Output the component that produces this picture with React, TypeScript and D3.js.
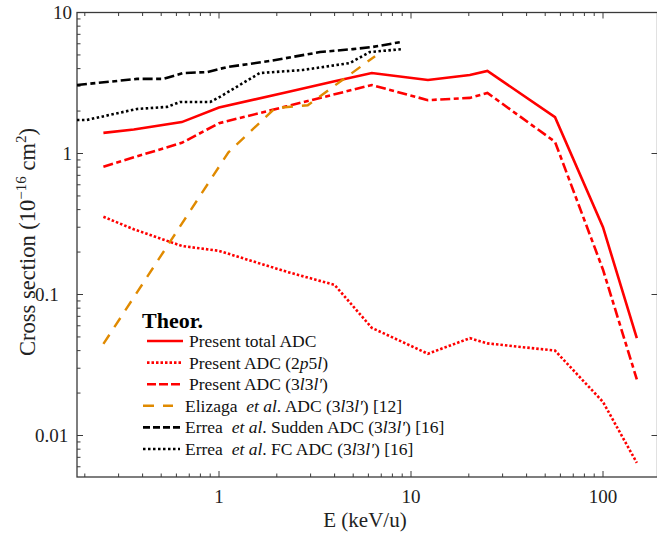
import React from 'react';
import * as d3 from 'd3';

const W = 657;
const H = 534;

// Present ADC calculations (energies in keV/u, cross sections in 1e-16 cm^2)
const presentE = [0.25, 0.36, 0.64, 1, 2.25, 4, 6.25, 12.25, 20.25, 25, 56.25, 100, 150];
const totalADC = [1.40, 1.48, 1.67, 2.12, 2.72, 3.25, 3.72, 3.32, 3.6, 3.85, 1.81, 0.30, 0.049];
const adc2p5l = [0.356, 0.29, 0.221, 0.204, 0.145, 0.117, 0.058, 0.038, 0.049, 0.045, 0.040, 0.0173, 0.0064];
const adc3l3l = [0.805, 0.94, 1.19, 1.64, 2.16, 2.63, 3.06, 2.39, 2.48, 2.69, 1.21, 0.15, 0.025];

// Elizaga et al. [12]
const elizagaE = [0.25, 1.12, 1.96, 2.9, 6.5];
const elizagaV = [0.0446, 1.02, 2.1, 2.2, 4.9];

// Errea et al. Sudden [16]
const suddenE = [0.182, 0.374, 0.51, 0.65, 0.866, 1.1, 1.84, 3.36, 4.99, 6.34, 9.0];
const suddenV = [3.06, 3.38, 3.38, 3.72, 3.78, 4.1, 4.53, 5.24, 5.5, 5.7, 6.2];

// Errea et al. FC [16]
const fcE = [0.182, 0.205, 0.374, 0.536, 0.626, 0.9, 1.01, 1.63, 2.73, 4.8, 6.1, 9.0];
const fcV = [1.73, 1.73, 2.07, 2.14, 2.32, 2.32, 2.52, 3.72, 3.91, 4.38, 5.24, 5.5];

const xTickLabels = ['1', '10', '100'];
const xTickValues = [1, 10, 100];
const yTickLabels = ['10', '1', '0.1', '0.01'];
const yTickValues = [10, 1, 0.1, 0.01];

const legendTitle = 'Theor.';
const legendLabels = [
  'Present total ADC',
  'Present ADC (2_p_5_l_)',
  "Present ADC (3_l_3_l'_)",
  "Elizaga  _et al_. ADC (3_l_3_l'_) [12]",
  "Errea  _et al_. Sudden ADC (3_l_3_l'_) [16]",
  "Errea  _et al_. FC ADC (3_l_3_l'_) [16]",
];

const RED = '#ff0000';
const ORANGE = '#e08a00';
const BLACK = '#000000';
const AXIS = '#3a3a3a';
const FONT = '"Liberation Serif", "Times New Roman", Times, serif';

type Series = { xs: number[]; ys: number[]; color: string; dash: string | null; width: number; cap: string };

const series: Series[] = [
  { xs: presentE, ys: totalADC, color: RED, dash: null, width: 2.6, cap: 'butt' },
  { xs: presentE, ys: adc2p5l, color: RED, dash: '2.5,2', width: 2.6, cap: 'butt' },
  { xs: presentE, ys: adc3l3l, color: RED, dash: '10,3.5,5,3.5', width: 2.6, cap: 'butt' },
  { xs: elizagaE, ys: elizagaV, color: ORANGE, dash: '11,9', width: 2.4, cap: 'butt' },
  { xs: suddenE, ys: suddenV, color: BLACK, dash: '10,3.5,5,3.5', width: 2.6, cap: 'butt' },
  { xs: fcE, ys: fcV, color: BLACK, dash: '2.5,2.5', width: 2.6, cap: 'butt' },
];

const legendSample = [
  { x0: 147, x1: 183, tx: 189 },
  { x0: 147, x1: 183, tx: 189 },
  { x0: 147, x1: 183, tx: 189 },
  { x0: 143, x1: 173, tx: 185 },
  { x0: 143, x1: 180, tx: 185 },
  { x0: 143, x1: 180, tx: 185 },
];

function Rich({ text }: { text: string }) {
  const parts = text.split('_');
  return (
    <>
      {parts.map((p, i) => (
        <tspan key={i} fontStyle={i % 2 === 1 ? 'italic' : 'normal'}>{p}</tspan>
      ))}
    </>
  );
}

export default function App() {
  const left = 77, right = 657.5, top = 12.5, bottom = 477;
  const x = d3.scaleLog().domain([Math.pow(10, (left - 219) / 192), Math.pow(10, (right - 219) / 192)]).range([left, right]);
  const y = d3.scaleLog().domain([Math.pow(10, -(bottom - 153.5) / 141), 10]).range([bottom, top]);

  const xt = x.ticks();
  const yt = y.ticks();
  const isMajor = (v: number) => Math.abs(Math.log10(v) - Math.round(Math.log10(v))) < 1e-6;

  const line = d3.line<[number, number]>().x(d => x(d[0])).y(d => y(d[1]));

  return (
    <svg width={W} height={H} style={{ position: 'absolute', left: 0, top: 0, background: '#fff' }} fontFamily={FONT}>
      <defs>
        <clipPath id="plotclip">
          <rect x={left} y={top} width={right - left} height={bottom - top} />
        </clipPath>
      </defs>
      {/* frame */}
      <rect x={left} y={top} width={right - left} height={bottom - top} fill="none" stroke={AXIS} strokeWidth={1.3} />
      {/* x ticks */}
      {xt.map((v, i) => {
        const len = isMajor(v) ? 6 : 3.5;
        const px = x(v);
        return (
          <g key={'xt' + i} stroke={AXIS} strokeWidth={1}>
            <line x1={px} x2={px} y1={bottom} y2={bottom - len} />
            <line x1={px} x2={px} y1={top} y2={top + len} />
          </g>
        );
      })}
      {/* y ticks */}
      {yt.map((v, i) => {
        const major = isMajor(v);
        const len = major ? 6 : 3.5;
        const py = y(v);
        return (
          <g key={'yt' + i} stroke={AXIS} strokeWidth={1}>
            <line x1={left} x2={left + len} y1={py} y2={py} />
            {major && <line x1={right} x2={right - len} y1={py} y2={py} />}
          </g>
        );
      })}
      {/* x tick labels */}
      {xTickValues.map((v, i) => (
        <text key={'xl' + i} x={x(v)} y={503} textAnchor="middle" fontSize={19} fill="#222">{xTickLabels[i]}</text>
      ))}
      {/* y tick labels */}
      {yTickValues.map((v, i) => (
        <text key={'yl' + i} x={v >= 1 ? 72 : 35} y={y(v) + 6.5} textAnchor={v >= 1 ? 'end' : 'start'} fontSize={19} fill="#222">{yTickLabels[i]}</text>
      ))}
      {/* axis titles */}
      <text x={365} y={527} textAnchor="middle" fontSize={21} fill="#222">E (keV/u)</text>
      <text transform={`translate(35,${242}) rotate(-90)`} textAnchor="middle" fontSize={22.5} fill="#222">
        Cross section (10<tspan dy={-9} fontSize={15}>−16</tspan><tspan dy={9}> cm</tspan><tspan dy={-9} fontSize={15}>2</tspan><tspan dy={9}>)</tspan>
      </text>
      {/* series */}
      <g clipPath="url(#plotclip)">
        {series.map((s, i) => (
          <path
            key={'s' + i}
            d={line(s.xs.map((e, j) => [e, s.ys[j]] as [number, number])) || ''}
            fill="none"
            stroke={s.color}
            strokeWidth={s.width}
            strokeDasharray={s.dash || undefined}
            strokeLinecap={s.cap as any}
            strokeLinejoin="miter"
          />
        ))}
      </g>
      {/* legend */}
      <text x={142} y={328} fontSize={22} fontWeight="bold" fill="#000">{legendTitle}</text>
      {legendLabels.map((lab, i) => {
        const ly = 341 + i * 21.6;
        const s = series[i];
        const ls = legendSample[i];
        return (
          <g key={'lg' + i}>
            <line x1={ls.x0} x2={ls.x1} y1={ly} y2={ly} stroke={s.color} strokeWidth={s.width} strokeDasharray={i === 2 ? '9,3' : i === 4 ? '7,3' : s.dash || undefined} />
            <text x={ls.tx} y={ly + 6} fontSize={17.5} fill="#111" style={{ whiteSpace: 'pre' }}>
              <Rich text={lab} />
            </text>
          </g>
        );
      })}
    </svg>
  );
}
